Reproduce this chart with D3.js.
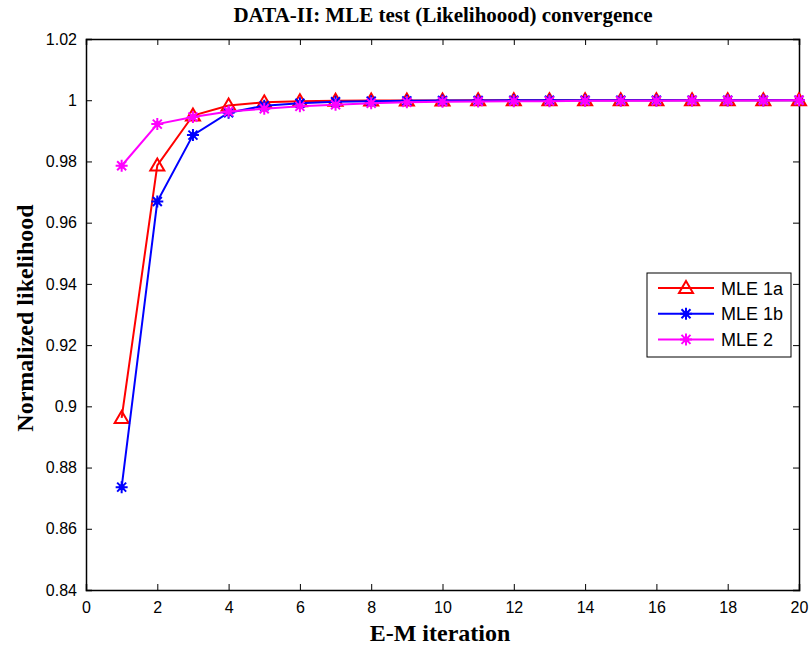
<!DOCTYPE html>
<html>
<head>
<meta charset="utf-8">
<script src="https://cdn.jsdelivr.net/npm/d3@7"></script>
<style>
  body { margin: 0; background: #fff; }
  svg { display: block; }
  .tick text { font-family: "Liberation Sans", Arial, sans-serif; font-size: 16px; fill: #000; }
</style>
</head>
<body>
<div id="chart"></div>
<script>
var iterations = d3.range(1, 21)
var mle1a = [0.8962, 0.9787, 0.9950, 0.9983, 0.9993, 0.9997, 0.9998, 0.9999, 0.9999, 0.9999,
             1.0, 1.0, 1.0, 1.0, 1.0, 1.0, 1.0, 1.0, 1.0, 1.0]
var mle1b = [0.8736, 0.9669, 0.9886, 0.9959, 0.9982, 0.9990, 0.9995, 0.9997, 0.9998, 0.9999,
             0.9999, 1.0, 1.0, 1.0, 1.0, 1.0, 1.0, 1.0, 1.0, 1.0]
var mle2 = [0.9786, 0.9922, 0.9945, 0.9963, 0.9972, 0.9980, 0.9985, 0.9990, 0.9993, 0.9995,
            0.9996, 0.9997, 0.9997, 0.9998, 0.9998, 0.9998, 0.9999, 0.9999, 0.9999, 1.0]
var seriesNames = ['MLE 1a', 'MLE 1b', 'MLE 2']
var seriesColors = ['#ff0000', '#0000ff', '#ff00ff']
var xTicks = d3.range(0, 21, 2)
var yTicks = [0.84, 0.86, 0.88, 0.9, 0.92, 0.94, 0.96, 0.98, 1, 1.02]

var W = 809, H = 647
var m = {left: 86, right: 10, top: 39, bottom: 57}
var iw = W - m.left - m.right, ih = H - m.top - m.bottom

var svg = d3.select('#chart').append('svg').attr('width', W).attr('height', H)
var g = svg.append('g').attr('transform', 'translate(' + m.left + ',' + m.top + ')')

var x = d3.scaleLinear().domain([0, 20]).range([0, iw])
var y = d3.scaleLinear().domain([0.84, 1.02]).range([ih, 0])

// axes (matlab style: inward ticks on all four sides)
var fmt = function(d) { return d3.format('~g')(+d.toFixed(2)) }
g.append('g').attr('transform', 'translate(0,' + ih + ')')
    .call(d3.axisBottom(x).tickValues(xTicks).tickSize(-6).tickPadding(12).tickFormat(d3.format('d')))
g.append('g')
    .call(d3.axisLeft(y).tickValues(yTicks).tickSize(-6).tickPadding(9).tickFormat(fmt))
g.append('g')
    .call(d3.axisTop(x).tickValues(xTicks).tickSize(-6).tickFormat(''))
g.append('g').attr('transform', 'translate(' + iw + ',0)')
    .call(d3.axisRight(y).tickValues(yTicks).tickSize(-6).tickFormat(''))
g.selectAll('.domain').attr('stroke', '#000').attr('stroke-width', 1.5)
g.selectAll('.tick line').attr('stroke', '#000')

var data = [mle1a, mle1b, mle2]
var line = d3.line().x(function(d, i) { return x(iterations[i]) }).y(function(d) { return y(d) })

var triangle = 'M0,-7L7,5L-7,5Z'
var star = 'M-6,0L6,0M0,-6L0,6M-4.5,-4.5L4.5,4.5M-4.5,4.5L4.5,-4.5'

function drawMarker(sel, k, cx, cy) {
    if (k === 0) {
        sel.append('path').attr('d', triangle)
            .attr('transform', 'translate(' + cx + ',' + cy + ')')
            .attr('fill', 'none').attr('stroke', seriesColors[k]).attr('stroke-width', 2)
    } else {
        sel.append('path').attr('d', star)
            .attr('transform', 'translate(' + cx + ',' + cy + ')')
            .attr('fill', 'none').attr('stroke', seriesColors[k]).attr('stroke-width', 2)
        sel.append('circle').attr('cx', cx).attr('cy', cy).attr('r', 3)
            .attr('fill', seriesColors[k])
    }
}

data.forEach(function(vals, k) {
    var sg = g.append('g')
    sg.append('path').datum(vals).attr('d', line)
        .attr('fill', 'none').attr('stroke', seriesColors[k]).attr('stroke-width', 2)
    vals.forEach(function(v, i) {
        drawMarker(sg, k, x(iterations[i]), y(v))
    })
})

// legend
var lg = svg.append('g').attr('transform', 'translate(647,273)')
lg.append('rect').attr('width', 144).attr('height', 84)
    .attr('fill', '#fff').attr('stroke', '#000').attr('stroke-width', 1)
seriesNames.forEach(function(name, k) {
    var ly = 15 + k * 25.7
    lg.append('line').attr('x1', 11).attr('x2', 67).attr('y1', ly).attr('y2', ly)
        .attr('stroke', seriesColors[k]).attr('stroke-width', 2)
    drawMarker(lg, k, 39, ly)
    lg.append('text').attr('x', 74).attr('y', ly + 6.5).text(name)
        .style('font-family', '"Liberation Sans", Arial, sans-serif').style('font-size', '18px')
})

// titles
svg.append('text').attr('x', 443).attr('y', 22).attr('text-anchor', 'middle')
    .style('font-family', '"Liberation Serif", "Times New Roman", serif')
    .style('font-size', '21px').style('font-weight', 'bold')
    .text('DATA-II: MLE test (Likelihoood) convergence')
svg.append('text').attr('x', 440).attr('y', 641).attr('text-anchor', 'middle')
    .style('font-family', '"Liberation Serif", "Times New Roman", serif')
    .style('font-size', '24px').style('font-weight', 'bold')
    .text('E-M iteration')
svg.append('text').attr('transform', 'translate(33,318) rotate(-90)').attr('text-anchor', 'middle')
    .style('font-family', '"Liberation Serif", "Times New Roman", serif')
    .style('font-size', '24px').style('font-weight', 'bold')
    .text('Normalized likelihood')
</script>
</body>
</html>
